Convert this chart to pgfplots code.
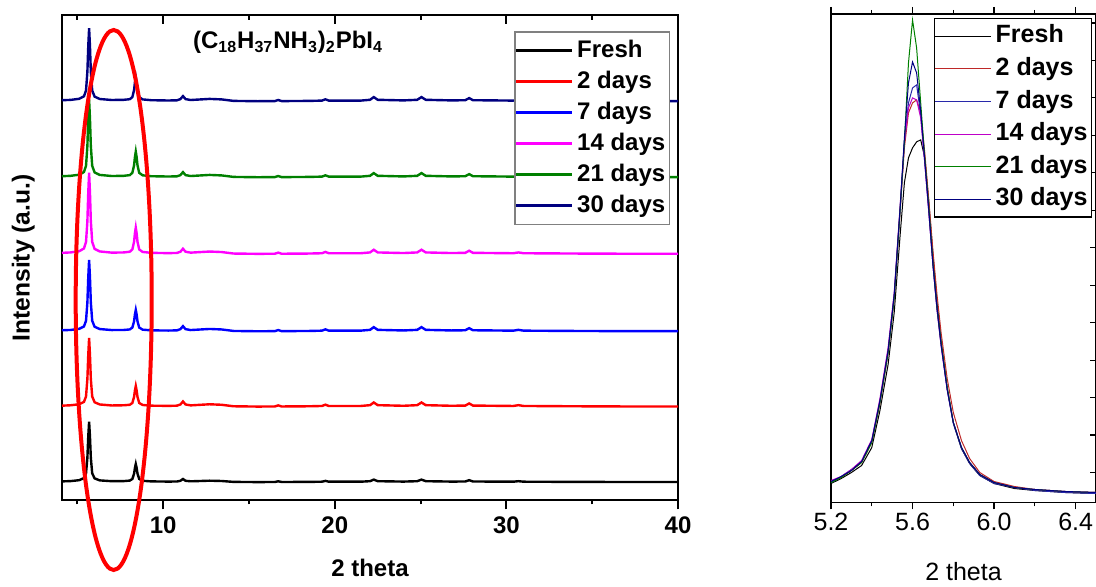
\documentclass[border=0pt]{standalone}
\usepackage{fontspec}
\setmainfont{Liberation Sans}
\usepackage{pgfplots}
\usepackage{pgfplotstable}
\pgfplotsset{compat=1.18}

\definecolor{cNavy}{RGB}{0,0,128}
\definecolor{cGreen}{RGB}{0,128,0}
\definecolor{cMag}{RGB}{255,0,255}
\definecolor{rRed}{RGB}{190,40,40}
\definecolor{rBlue}{RGB}{40,40,170}
\definecolor{rMag}{RGB}{190,0,200}

% full pattern, stacked traces (offset already in the values)
\pgfplotstableread{
x fresh d2 d7 d14 d21 d30
4.1 19.1 94.8 170.2 247.6 324.2 400.2
4.6 19.4 95.2 170.5 248.0 324.6 400.5
5.1 20.3 96.2 171.6 249.2 325.7 401.6
5.38 22.4 98.6 174.0 252.0 328.4 404.1
5.5 27.2 104.0 179.7 258.5 334.6 409.9
5.58 42.8 121.7 198.1 279.4 354.6 428.8
5.63 63.8 145.5 222.8 307.7 381.6 454.1
5.68 78.8 162.5 240.5 327.8 400.8 472.2
5.73 63.8 145.5 222.8 307.7 381.6 454.1
5.78 42.8 121.7 198.1 279.4 354.6 428.8
5.86 27.2 104.0 179.7 258.5 334.6 409.9
6.0 22.1 98.2 173.7 251.6 328.0 403.8
6.3 20.1 96.0 171.4 249.0 325.5 401.4
7.0 19.3 95.0 170.4 247.8 324.4 400.4
7.7 19.4 95.2 170.5 248.0 324.6 400.6
8.05 19.9 95.7 171.0 248.7 325.3 401.2
8.2 21.5 97.5 172.9 251.0 327.6 403.3
8.3 26.8 103.5 179.1 258.7 335.1 410.3
8.35 32.6 110.1 186.0 267.2 343.3 418.1
8.4 36.5 114.5 190.5 272.8 348.8 423.2
8.45 32.6 110.1 186.0 267.2 343.3 418.1
8.5 26.8 103.5 179.1 258.7 335.1 410.3
8.6 21.5 97.5 172.9 251.0 327.6 403.3
8.8 19.7 95.5 170.8 248.5 325.1 401.0
9.3 19.1 94.8 170.1 247.6 324.2 400.2
10.3 18.9 94.6 169.9 247.3 323.9 399.9
10.8 19.0 94.8 170.1 247.5 324.1 400.1
11.0 19.7 96.0 171.3 248.7 325.3 401.3
11.15 21.5 99.0 174.3 251.7 328.3 404.3
11.3 19.7 96.0 171.3 248.7 325.3 401.3
11.6 19.2 95.1 170.4 247.8 324.4 400.4
12.0 19.4 95.5 170.8 248.2 324.8 400.8
12.7 19.8 96.2 171.5 248.9 325.5 401.5
13.4 19.5 95.7 171.0 248.4 325.0 401.0
14.1 18.6 94.2 169.5 246.9 323.5 399.5
15.5 18.4 93.9 169.2 246.6 323.2 399.2
16.5 18.5 94.0 169.3 246.7 323.3 399.3
16.7 19.2 95.1 170.4 247.8 324.4 400.4
16.9 18.5 94.0 169.3 246.7 323.3 399.3
18.5 18.6 94.2 169.5 246.9 323.5 399.5
19.25 18.8 94.5 169.8 247.2 323.8 399.8
19.45 19.6 95.8 171.1 248.5 325.1 401.1
19.65 18.8 94.5 169.8 247.2 323.8 399.8
21.5 18.8 94.5 169.8 247.2 323.8 399.8
22.05 19.3 95.3 170.6 248.0 324.6 400.6
22.27 20.9 98.0 173.3 250.7 327.3 403.3
22.5 19.3 95.3 170.6 248.0 324.6 400.6
24.0 18.9 94.7 170.0 247.4 324.0 400.0
24.8 19.3 95.3 170.6 248.0 324.6 400.6
25.05 20.9 98.0 173.3 250.7 327.3 403.3
25.3 19.3 95.3 170.6 248.0 324.6 400.6
26.8 18.9 94.7 170.0 247.4 324.0 400.0
27.6 19.0 94.9 170.2 247.6 324.2 400.2
27.83 20.3 97.0 172.3 249.7 326.3 402.3
28.05 19.0 94.9 170.2 247.6 324.2 400.2
30.4 18.8 94.5 169.8 247.2 323.8 399.8
30.7 19.3 95.3 170.6 248.0 324.6 400.6
31.0 18.8 94.5 169.8 247.2 323.8 399.8
34 18.6 94.2 169.5 246.9 323.5 399.5
37 18.5 94.0 169.3 246.7 323.3 399.3
40 18.5 94.0 169.3 246.7 323.3 399.3
}\fulldata

% zoom on the first reflection, not offset
\pgfplotstableread{
x fresh d2 d7 d14 d21 d30
5.2 19 21 20 22 20 21
5.25 24 25 26 26 25 26
5.3 30 32 33 33 32 32
5.35 37 40 41 42 40 41
5.4 55 60 61 63 60 62
5.44 92 99 101 104 100 102
5.48 138 149 151 155 150 152
5.51 190 204 207 210 205 208
5.54 270 294 297 300 296 298
5.56 320 355 362 360 360 365
5.58 345 390 400 395 440 420
5.6 355 400 415 405 483 441
5.62 361 403 418 403 455 430
5.64 363 390 388 385 400 392
5.66 345 350 340 340 345 342
5.68 300 302 290 290 295 292
5.7 248 252 238 238 240 238
5.72 200 208 193 193 195 195
5.74 162 170 158 157 160 158
5.77 115 124 113 113 115 113
5.8 80 90 79 80 80 80
5.84 54 62 54 55 55 55
5.88 39 44 39 40 40 40
5.93 27 30 27 28 28 28
6.0 19 21 19 20 20 20
6.1 14 16 15 15 15 15
6.2 12 13 12 13 13 13
6.35 10 11 10 11 11 11
6.5 9 10 9 10 10 10
}\zoomdata

\begin{document}
\begin{tikzpicture}
% ---- left panel: top ticks point inward
\begin{axis}[
 at={(31pt,43.25pt)},anchor=south west,
 width=308pt,height=242.5pt,scale only axis,
 xmin=4.1,xmax=40,ymin=0,ymax=485,
 axis x line*=top,axis y line=none,
 xtick={10,20,30,40},minor xtick={5,15,25,35},xticklabels={},
 tick align=inside,major tick length=4.5pt,minor tick length=2.5pt,
 axis line style={line width=1pt},tick style={line width=1pt,black},
]
\end{axis}
\begin{axis}[
 at={(31pt,43.25pt)},anchor=south west,
 width=308pt,height=242.5pt,scale only axis,
 xmin=4.1,xmax=40,ymin=0,ymax=485,
 xtick={10,20,30,40},minor xtick={5,15,25,35},
 xtick pos=bottom,ytick=\empty,
 tick align=outside,major tick length=4.5pt,minor tick length=2pt,
 axis line style={line width=1pt},tick style={line width=1pt,black},
 /pgf/number format/assume math mode=true,
 xticklabel style={font=\bfseries\fontsize{12}{13}\selectfont},
 xlabel={2 theta},
 xlabel style={font=\bfseries\fontsize{12}{13}\selectfont,
   at={(axis description cs:0.5,-0.14)},anchor=center},
 ylabel={Intensity (a.u.)},
 ylabel style={font=\bfseries\fontsize{12.3}{13}\selectfont,
   at={(axis description cs:-0.063,0.5)},anchor=center},
 legend style={at={(0.987,0.967)},anchor=north east,draw=gray,line width=0.7pt,
   fill=white,font=\bfseries\fontsize{12}{13}\selectfont,
   inner xsep=0pt,inner ysep=3.5pt,row sep=3.9pt,
   nodes={inner xsep=2pt,inner ysep=0pt,text height=9pt,text depth=2.6pt}},
 legend cell align=left,
 legend image code/.code={\draw[#1] (0pt,0pt) -- (28pt,0pt);},
 every axis plot/.append style={line width=1.2pt},
]
\addplot[black] table[x=x,y=fresh] {\fulldata};
\addplot[red] table[x=x,y=d2] {\fulldata};
\addplot[blue] table[x=x,y=d7] {\fulldata};
\addplot[cMag] table[x=x,y=d14] {\fulldata};
\addplot[cGreen] table[x=x,y=d21] {\fulldata};
\addplot[cNavy] table[x=x,y=d30] {\fulldata};
\legend{Fresh,2 days,7 days,14 days,21 days,30 days}
\node[font=\bfseries\fontsize{12}{13}\selectfont] at (axis description cs:0.367,0.944)
 {(C\textsubscript{18}H\textsubscript{37}NH\textsubscript{3})\textsubscript{2}PbI\textsubscript{4}};
\end{axis}
% highlight round the first two reflections
\draw[red,line width=2pt] (56.85pt,143.5pt) ellipse [x radius=19pt,y radius=135pt];

% ---- right panel
\begin{axis}[
 at={(415.5pt,42.25pt)},anchor=south west,
 width=132.5pt,height=244.25pt,scale only axis,
 xmin=5.2,xmax=6.5,ymin=0,ymax=489,
 xtick={5.2,5.6,6.0,6.4},xticklabels={5.2,5.6,6.0,6.4},
 minor xtick={5.4,5.8,6.2},
 ytick=\empty,ytick pos=right,
 extra y ticks={30,67.5,...,480},extra y tick labels={},
 extra y tick style={tick align=inside,major tick length=3pt},
 tick align=outside,major tick length=3.5pt,minor tick length=2pt,
 axis line style={line width=0.6pt},tick style={line width=0.6pt,black},
 xticklabel style={font=\fontsize{12.5}{13}\selectfont,yshift=2pt},
 xlabel={2 theta},
 xlabel style={font=\fontsize{12.5}{13}\selectfont,
   at={(axis description cs:0.5,-0.141)},anchor=center},
 legend style={at={(0.389,0.992)},anchor=north west,draw=black,line width=0.6pt,
   fill=white,font=\bfseries\fontsize{12.5}{13}\selectfont,
   inner xsep=0pt,inner ysep=3pt,row sep=4.5pt,
   nodes={inner xsep=2pt,inner ysep=0pt,text height=9.2pt,text depth=2.6pt}},
 legend cell align=left,
 legend image code/.code={\draw[#1] (0pt,0pt) -- (28pt,0pt);},
 every axis plot/.append style={line width=0.5pt},
]
\addplot[black] table[x=x,y=fresh] {\zoomdata};
\addplot[rRed] table[x=x,y=d2] {\zoomdata};
\addplot[rBlue] table[x=x,y=d7] {\zoomdata};
\addplot[rMag] table[x=x,y=d14] {\zoomdata};
\addplot[cGreen] table[x=x,y=d21] {\zoomdata};
\addplot[cNavy] table[x=x,y=d30] {\zoomdata};
\legend{Fresh,2 days,7 days,14 days,21 days,30 days}
\end{axis}
\pgfresetboundingbox
\useasboundingbox (0pt,0pt) rectangle (548pt,293.5pt);
\end{tikzpicture}
\end{document}
